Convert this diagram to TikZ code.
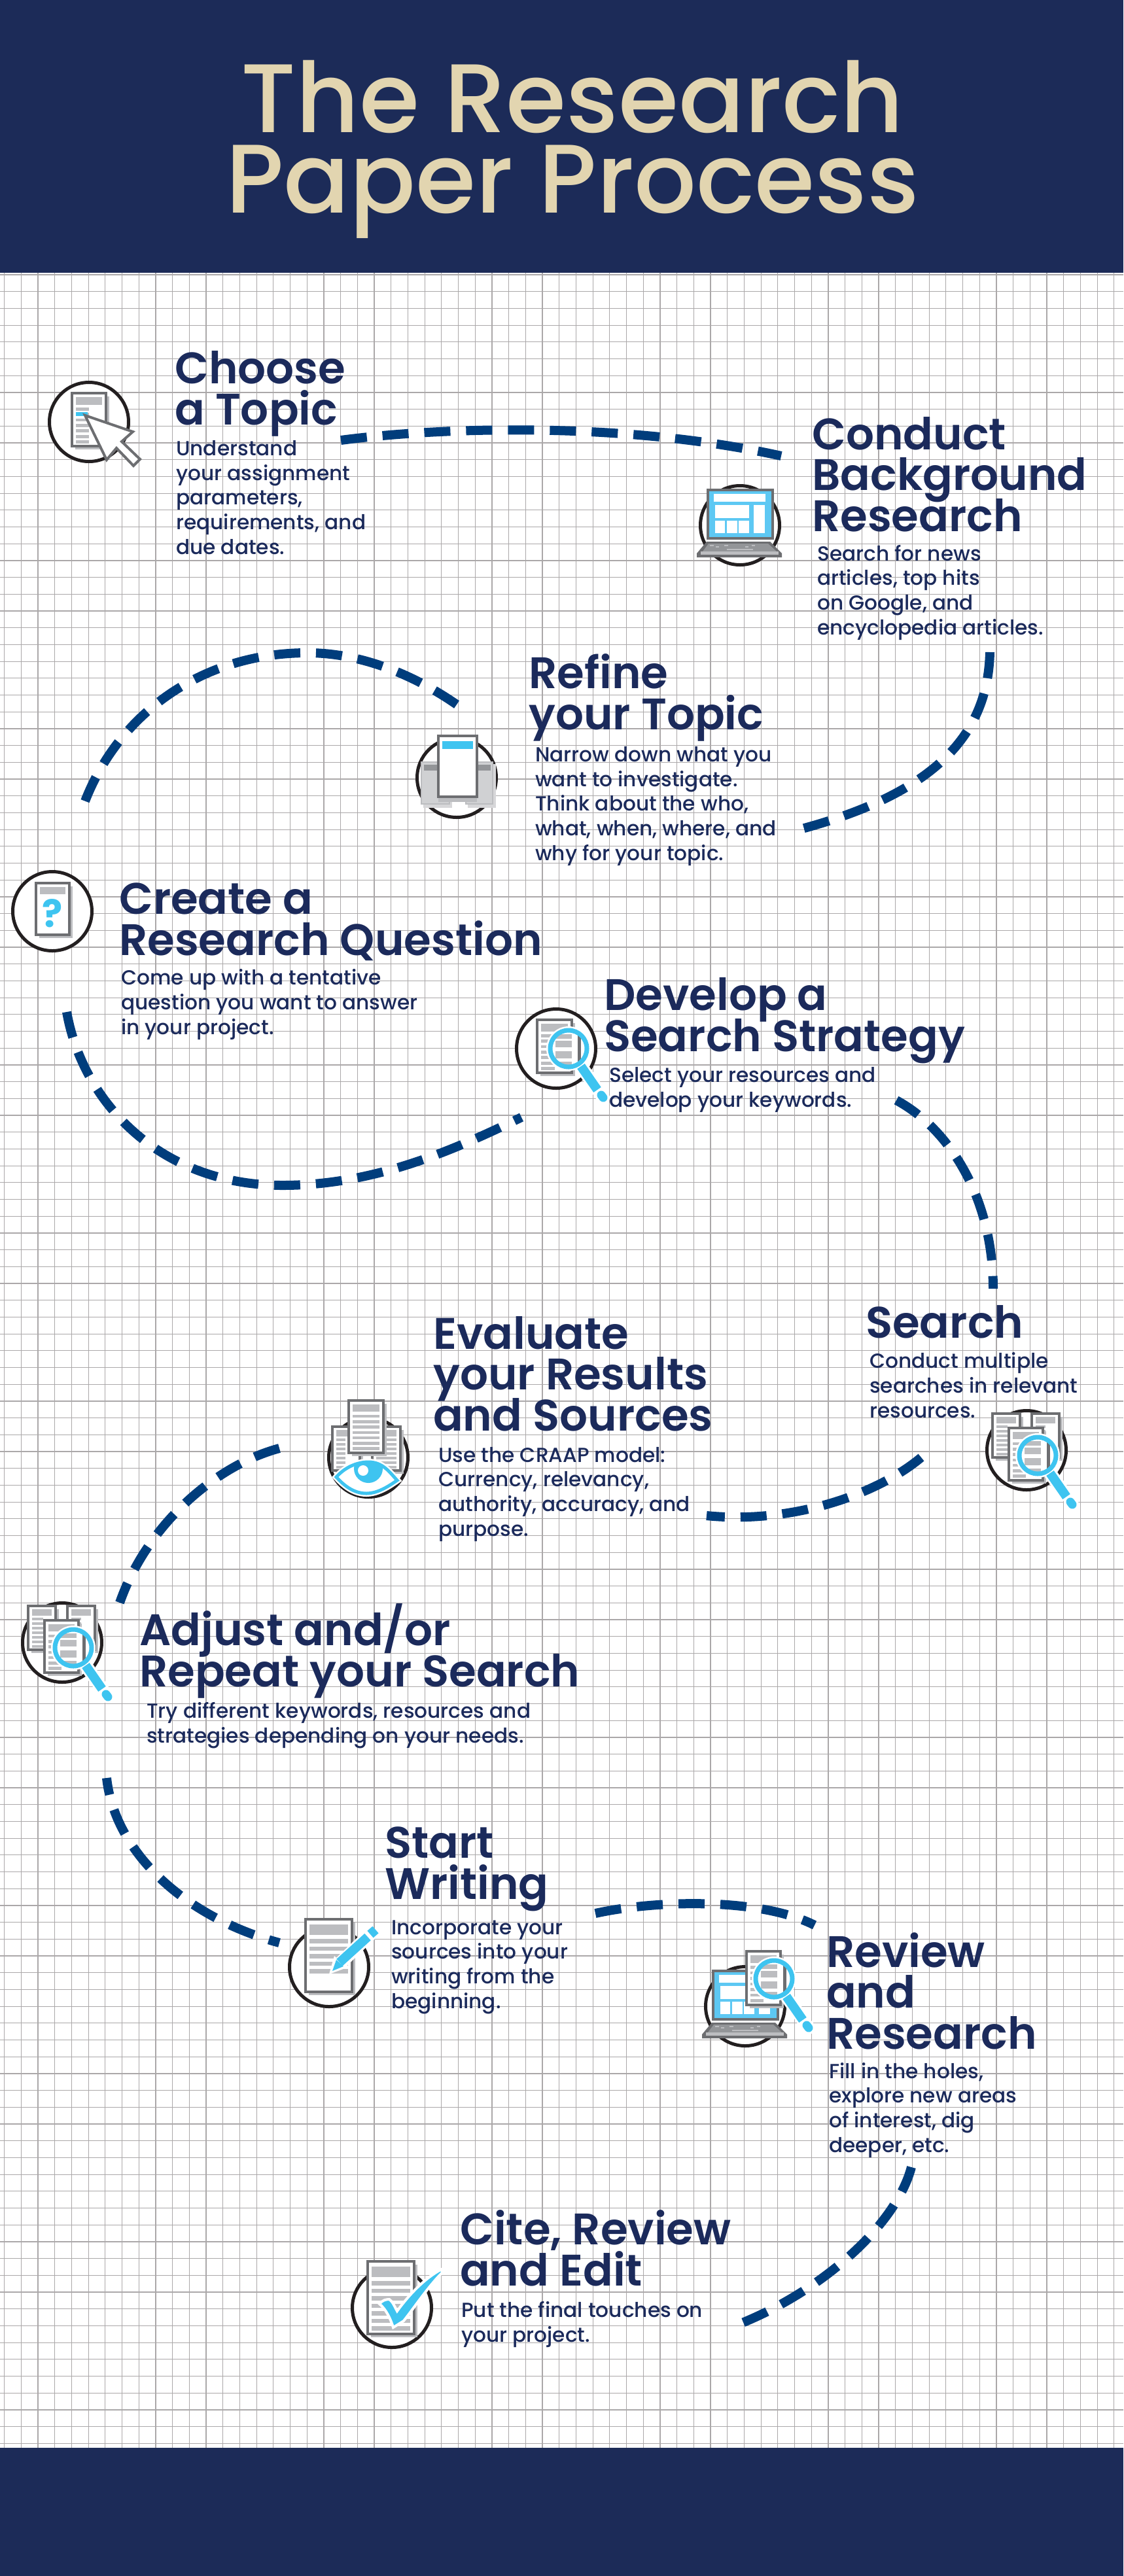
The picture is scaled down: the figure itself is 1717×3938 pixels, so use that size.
\documentclass[tikz,border=0pt]{standalone}
\usepackage{fontspec}
\setmainfont{Poppins}
\newfontfamily\titlefont{Poppins Medium}
\newfontfamily\headfont{Poppins SemiBold}
\newfontfamily\bodyfont{Poppins Medium}
\usepackage{tikz}
\usetikzlibrary{calc}
\definecolor{navy}{HTML}{1C2B58}
\definecolor{sand}{HTML}{E2D5B0}
\definecolor{inktext}{HTML}{1B2A5B}
\definecolor{route}{HTML}{003D7C}
\definecolor{gridgray}{HTML}{ABA8A9}
\definecolor{sky}{HTML}{3EC4F0}
\definecolor{screenblue}{HTML}{5DC8F3}
\definecolor{framegray}{HTML}{6D6E71}
\definecolor{barsgray}{HTML}{BCBDC0}
\definecolor{keygray}{HTML}{939598}
\definecolor{ringblack}{HTML}{231F20}
\newcommand{\tightskip}{\lineskiplimit=-200pt\relax}

% sheet of paper: x0 y0 x1 y1
\newcommand{\sheet}[4]{
    \fill[barsgray] (#1+5,#2+5) rectangle (#3+5,#4+5);
    \draw[sheetframe] (#1,#2) rectangle (#3,#4);
    \pgfmathsetmacro{\sheeth}{(#4-#2)/111}
    \fill[barsgray] (#1+6,{#2+8*\sheeth}) rectangle (#3-6,{#2+24*\sheeth});
}
% text lines on a sheet: x0 y0 x1 y1 count fraction
\newcommand{\sheetlines}[6]{
    \pgfmathsetmacro{\sheeth}{(#4-#2)/111}
    \foreach \i in {1,...,#5} {
        \fill[barsgray] (#1+6,{#2+(30+11.5*(\i-1))*\sheeth}) rectangle ({#1+6+(#3-#1-12)*#6},{#2+(36.5+11.5*(\i-1))*\sheeth});
    }
}
% magnifying glass around x y
\newcommand{\loupe}[2]{
    \begin{scope}[shift={(#1,#2)}]
        \draw[white,line width=20] (19,27) -- (46,65);
        \draw[white,line width=20,line cap=round] (50,71) -- (53,75);
        \fill[white] (0,0) circle (34);
        \begin{scope}
            \clip (0,0) circle (27);
            \fill[barsgray] (-20,-22) rectangle (5,-15);
            \fill[barsgray] (-20,-12) rectangle (5,-2);
            \fill[barsgray] (-20,4) rectangle (5,15);
            \fill[barsgray] (-20,20) rectangle (5,26);
            \fill[framegray] (14,-30) rectangle (19,30);
        \end{scope}
        \draw[sky,line width=7] (0,0) circle (28);
        \draw[sky,line width=14] (19,27) -- (44,63);
        \draw[sky,line width=13,line cap=round] (50,71) -- (53,75);
    \end{scope}
}
% laptop around x y
\newcommand{\laptop}[2]{
    \begin{scope}[shift={(#1,#2)}]
        \draw[framegray,line width=4,fill=screenblue] (-49,-54) rectangle (50,20);
        \fill[white] (-40,-48) rectangle (39,-36);
        \fill[white] (-38,-31) rectangle (14,-11);
        \fill[white] (-38,-7) rectangle (-23,12);
        \fill[white] (-20,-7) rectangle (-4,12);
        \fill[white] (-2,-7) rectangle (14,12);
        \fill[white] (21,-31) rectangle (38,12);
        \fill[framegray] (-51,25) -- (46,25) -- (64,43) -- (64,49) -- (-66,49) -- (-66,43) -- cycle;
        \fill[keygray] (-48,28) -- (43,28) -- (56,40) -- (-57,40) -- cycle;
        \fill[barsgray] (-60,40) rectangle (59,45);
        \fill[barsgray] (-46,30) rectangle (-40,32);
        \fill[barsgray] (-37,32) rectangle (-32,34);
        \fill[barsgray] (-24,30) rectangle (-18,32);
        \fill[barsgray] (8,32) rectangle (13,34);
        \fill[barsgray] (18,30) rectangle (23,32);
        \fill[barsgray] (-20,36) rectangle (20,37.5);
    \end{scope}
}
% three sheets and glass around x y
\newcommand{\threesheets}[2]{
    \begin{scope}[shift={(#1,#2)}]
        \sheet{8}{-56}{50}{11}
        \sheetlines{8}{-56}{50}{11}{5}{0.5}
        \sheet{-52}{-56}{-10}{11}
        \sheetlines{-52}{-56}{-10}{11}{7}{0.55}
        \sheet{-27}{-34}{25}{46}
        \sheetlines{-27}{-34}{25}{46}{7}{0.5}
    \end{scope}
    \loupe{#1+17}{#2+8}
}

\begin{document}
\begin{tikzpicture}[
    x=1pt, y=-1pt,
    gridline/.style={gridgray, line width=1.2},
    routeline/.style={route, line width=14, dash pattern=on 40pt off 24pt},
    iconring/.style={circle, draw=ringblack, line width=5, fill=white, minimum size=121, inner sep=0},
    sheetframe/.style={draw=framegray, line width=3.5, fill=white},
    titletext/.style={sand, align=center, inner sep=0, font=\titlefont\fontsize{149}{123}\selectfont\tightskip},
    headtext/.style={inktext, align=left, anchor=base west, inner sep=0, font=\headfont\fontsize{67.5}{62.5}\selectfont\tightskip},
    bodytext/.style={inktext, align=left, anchor=base west, inner sep=0, font=\bodyfont\fontsize{31.2}{37.6}\selectfont\tightskip}
]
    \useasboundingbox (0,0) rectangle (1717,3938);
    \fill[white] (0,0) rectangle (1717,3938);

    % Grid paper
    \foreach \i in {0,...,66} {
        \draw[gridline] ({6.6+25.7*\i},417) -- ({6.6+25.7*\i},3742);
    }
    \foreach \i in {0,...,129} {
        \draw[gridline] (0,{420+25.7*\i}) -- (1717,{420+25.7*\i});
    }

    % Bands
    \fill[navy] (0,0) rectangle (1717,417);
    \fill[navy] (0,3742) rectangle (1717,3938);
    \node[titletext] (title) at (875,325) [anchor=base] {The Research\\Paper Process};

    % Route ends
    \coordinate (topicout) at (521,673);
    \coordinate (conductin) at (1194,697);
    \coordinate (conductout) at (1513,997);
    \coordinate (refinein) at (1222,1268);
    \coordinate (refineout) at (698,1077);
    \coordinate (refinepeak) at (470,998);
    \coordinate (questionin) at (128,1230);
    \coordinate (questionout) at (102,1547);
    \coordinate (questionlow) at (432,1812);
    \coordinate (strategyin) at (797,1708);
    \coordinate (strategyout) at (1370,1682);
    \coordinate (searchin) at (1518,1970);
    \coordinate (searchout) at (1408,2228);
    \coordinate (evaluatein) at (1080,2317);
    \coordinate (evaluateout) at (427,2214);
    \coordinate (adjustin) at (183,2450);
    \coordinate (adjustout) at (163,2718);
    \coordinate (writingin) at (427,2970);
    \coordinate (writingout) at (910,2925);
    \coordinate (reviewin) at (1245,2943);
    \coordinate (reviewout) at (1393,3313);
    \coordinate (citein) at (1132,3552);

    % Routes
    \draw[routeline] (topicout) .. controls (680,652) and (960,645) .. (conductin);
    \draw[routeline] (conductout) .. controls (1510,1130) and (1420,1215) .. (refinein);
    \draw[routeline] (refineout) .. controls (630,1030) and (550,998) .. (refinepeak) .. controls (310,998) and (180,1090) .. (questionin);
    \draw[routeline] (questionout) .. controls (125,1680) and (240,1812) .. (questionlow) .. controls (570,1812) and (690,1760) .. (strategyin);
    \draw[routeline] (strategyout) .. controls (1450,1725) and (1518,1830) .. (searchin);
    \draw[routeline] (searchout) .. controls (1340,2285) and (1210,2330) .. (evaluatein);
    \draw[routeline] (evaluateout) .. controls (330,2240) and (225,2330) .. (adjustin);
    \draw[routeline, dash phase=14pt] (adjustout) .. controls (175,2830) and (280,2930) .. (writingin);
    \draw[routeline] (writingout) .. controls (1000,2905) and (1160,2900) .. (reviewin);
    \draw[routeline] (reviewout) .. controls (1370,3400) and (1260,3500) .. (citein);

    % Choose a topic
    \node[iconring] (topicring) at (136,645) {};
    \sheet{110}{601}{162}{682}
    \sheetlines{110}{601}{162}{682}{7}{0.5}
    \fill[sky] (116,630) rectangle (134,636);
    \draw[framegray,line width=4,fill=white,line join=miter] (130,635) -- (203,660) -- (186,675) -- (214,702) -- (204,712) -- (178,685) -- (163,703) -- cycle;
    \node[headtext] (topichead) at (267,649) {Choose\\a Topic};
    \node[bodytext] (topicbody) at (269,847) {Understand\\your assignment\\parameters,\\requirements, and\\due dates.};

    % Conduct background research
    \node[iconring] (conductring) at (1131,803) {};
    \laptop{1131}{803}
    \node[headtext] (conducthead) at (1241,812) {Conduct\\Background\\Research};
    \node[bodytext] (conductbody) at (1249,970) {Search for news\\articles, top hits\\on Google, and\\encyclopedia articles.};

    % Refine your topic
    \node[iconring] (refinering) at (698,1189) {};
    \fill[barsgray!60] (647,1168) rectangle (691,1235);
    \fill[barsgray!60] (715,1168) rectangle (758,1235);
    \draw[barsgray,line width=2,fill=barsgray!70] (644,1165) rectangle (687,1229);
    \draw[barsgray,line width=2,fill=barsgray!70] (712,1165) rectangle (753,1229);
    \fill[keygray] (648,1169) rectangle (750,1178);
    \fill[barsgray] (670,1218) rectangle (729,1226);
    \draw[sheetframe] (670,1125) rectangle (729,1218);
    \fill[sky] (676,1133) rectangle (723,1145);
    \node[headtext] (refinehead) at (808,1115) {Refine\\your Topic};
    \node[bodytext] (refinebody) at (818,1315) {Narrow down what you\\want to investigate.\\Think about the who,\\what, when, where, and\\why for your topic.};

    % Create a research question
    \node[iconring] (questionring) at (80,1393) {};
    \sheet{55}{1350}{106}{1429}
    \node[sky, inner sep=0, font=\fontspec{Poppins Bold}\fontsize{58}{58}\selectfont] (questionmark) at (80,1396) {?};
    \node[headtext] (questionhead) at (182,1460) {Create a\\Research Question};
    \node[bodytext] (questionbody) at (185,1581) {Come up with a tentative\\question you want to answer\\in your project.};

    % Develop a search strategy
    \node[iconring] (strategyring) at (850,1603) {};
    \sheet{821}{1559}{874}{1640}
    \sheetlines{821}{1559}{874}{1640}{7}{0.5}
    \loupe{869}{1603}
    \node[headtext] (strategyhead) at (923,1607) {Develop a\\Search Strategy};
    \node[bodytext] (strategybody) at (931,1692) {Select your resources and\\develop your keywords.};

    % Search
    \node[iconring] (searchring) at (1569,2217) {};
    \threesheets{1569}{2217}
    \node[headtext] (searchhead) at (1323,2045) {Search};
    \node[bodytext] (searchbody) at (1329,2167) {Conduct multiple\\searches in relevant\\resources.};

    % Evaluate your results and sources
    \node[iconring] (evaluatering) at (563,2228) {};
    \sheet{508}{2181}{550}{2248}
    \sheetlines{508}{2181}{550}{2248}{7}{0.45}
    \sheet{569}{2181}{612}{2248}
    \sheetlines{569}{2181}{612}{2248}{7}{1}
    \sheet{533}{2141}{586}{2221}
    \sheetlines{533}{2141}{586}{2221}{7}{1}
    \path[fill=white,draw=white,line width=10] (514,2258) .. controls (530,2240) and (550,2235) .. (563,2235) .. controls (585,2235) and (595,2250) .. (607,2263) .. controls (590,2275) and (575,2283) .. (560,2283) .. controls (540,2283) and (525,2270) .. (514,2258) -- cycle;
    \begin{scope}
        \clip (514,2258) .. controls (530,2240) and (550,2235) .. (563,2235) .. controls (585,2235) and (595,2250) .. (607,2263) .. controls (590,2275) and (575,2283) .. (560,2283) .. controls (540,2283) and (525,2270) .. (514,2258) -- cycle;
        \fill[sky] (563,2245) circle (22);
    \end{scope}
    \fill[white] (555,2248) circle (8);
    \draw[sky,line width=5] (514,2258) .. controls (530,2240) and (550,2235) .. (563,2235) .. controls (585,2235) and (595,2250) .. (607,2263) .. controls (590,2275) and (575,2283) .. (560,2283) .. controls (540,2283) and (525,2270) .. (514,2258) -- cycle;
    \node[headtext] (evaluatehead) at (662,2187) {Evaluate\\your Results\\and Sources};
    \node[bodytext] (evaluatebody) at (670,2348) {Use the CRAAP model:\\Currency, relevancy,\\authority, accuracy, and\\purpose.};

    % Adjust and repeat
    \node[iconring] (adjustring) at (95,2511) {};
    \threesheets{95}{2511}
    \node[headtext] (adjusthead) at (213,2578) {Adjust and/or\\Repeat your Search};
    \node[bodytext] (adjustbody) at (224,2664) {Try different keywords, resources and\\strategies depending on your needs.};

    % Start writing
    \node[iconring] (writingring) at (503,3007) {};
    \sheet{467}{2934}{538}{3045}
    \sheetlines{467}{2934}{538}{3045}{5}{1}
    \fill[white] (503,3018) -- (511,2990) -- (530,3008) -- cycle;
    \draw[white,line width=20] (519,3002) -- (572,2951);
    \fill[sky] (508,3013) -- (514,2996) -- (525,3006) -- cycle;
    \draw[sky,line width=14] (519,3000) -- (562,2961);
    \draw[sky,line width=14] (566,2957) -- (574,2950);
    \node[headtext] (writinghead) at (588,2903) {Start\\Writing};
    \node[bodytext] (writingbody) at (598,3070) {Incorporate your\\sources into your\\writing from the\\beginning.};

    % Review and research
    \node[iconring] (reviewring) at (1139,3067) {};
    \laptop{1139}{3067}
    \sheet{1141}{2983}{1193}{3065}
    \sheetlines{1141}{2983}{1193}{3065}{7}{0.5}
    \loupe{1183}{3025}
    \node[headtext] (reviewhead) at (1263,3132) {Review\\and\\Research};
    \node[bodytext] (reviewbody) at (1267,3290) {Fill in the holes,\\explore new areas\\of interest, dig\\deeper, etc.};

    % Cite, review and edit
    \node[iconring] (citering) at (599,3528) {};
    \sheet{562}{3457}{633}{3568}
    \sheetlines{562}{3457}{633}{3568}{7}{1}
    \path[fill=sky,draw=white,line width=4] (580,3522) .. controls (585,3516) and (590,3515) .. (595,3515) .. controls (600,3518) and (603,3526) .. (607,3533) .. controls (625,3508) and (650,3482) .. (675,3469) -- (676,3474) .. controls (655,3495) and (635,3525) .. (617,3548) -- (601,3558) .. controls (597,3545) and (590,3530) .. (580,3522) -- cycle;
    \node[headtext] (citehead) at (703,3494) {Cite, Review\\and Edit};
    \node[bodytext] (citebody) at (705,3580) {Put the final touches on\\your project.};
\end{tikzpicture}
\end{document}
